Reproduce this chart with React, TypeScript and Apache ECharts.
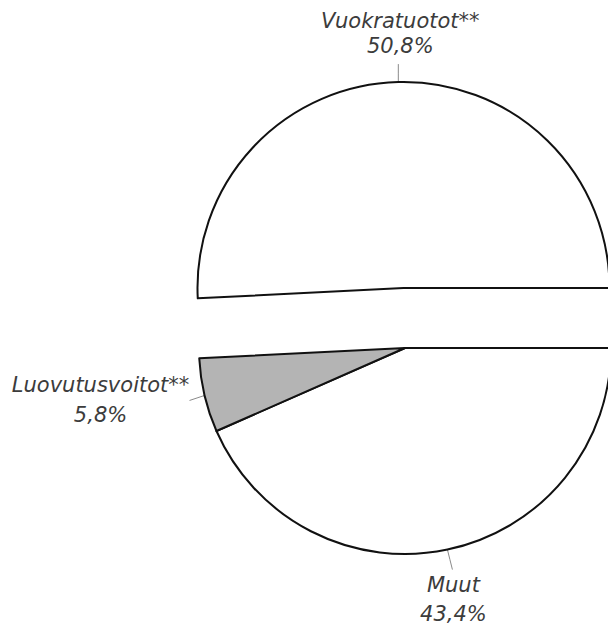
import React, { useEffect, useRef } from "react";
import * as echarts from "echarts";

// Data
const categories = ["Muut", "Luovutusvoitot**", "Vuokratuotot**"];
const shares = [43.4, 5.8, 50.8];
const fills = ["#ffffff", "#b4b4b4", "#ffffff"];
const exploded = [false, false, true];

// Layout
const CX = 405;
const CY = 348;
const R = 206;
const OFFSET = 60;

// Label placement relative to the slice's mid-angle point on the rim
const textOffsets = [
  [6, 50],
  [-104, 5],
  [2, -49],
];
const leaderEnds = [
  [5, 20],
  [-15, 5],
  [0, -18],
];
const lineHeights = [29, 30, 25];

function midAngles() {
  const total = shares.reduce((a, b) => a + b, 0);
  let acc = 0;
  return shares.map((v) => {
    const a0 = (acc / total) * 2 * Math.PI;
    acc += v;
    const a1 = (acc / total) * 2 * Math.PI;
    return (a0 + a1) / 2; // clockwise from 3 o'clock (screen coords)
  });
}

export default function App() {
  const ref = useRef<HTMLDivElement>(null);
  useEffect(() => {
    if (!ref.current) return;
    const chart = echarts.init(ref.current, null, { renderer: "svg" });
    const mids = midAngles();
    // exploded piece: shift its pie centre along its mid angle
    const expIdx = exploded.indexOf(true);
    const ecx = CX + OFFSET * Math.cos(mids[expIdx]);
    const ecy = CY + OFFSET * Math.sin(mids[expIdx]);
    const anc = mids.map((m, i) => {
      const cx = exploded[i] ? ecx : CX;
      const cy = exploded[i] ? ecy : CY;
      return [cx + R * Math.cos(m), cy + R * Math.sin(m)];
    });

    const makeSeries = (isExploded: boolean, cx: number, cy: number) => ({
      type: "pie",
      center: [cx, cy],
      radius: R,
      startAngle: 0,
      clockwise: true,
      avoidLabelOverlap: false,
      silent: true,
      emphasis: { disabled: true },
      itemStyle: { borderColor: "#111111", borderWidth: 2 },
      label: {
        show: true,
        position: "outside",
        fontFamily: "DejaVu Sans",
        fontStyle: "italic",
        fontSize: 21,
        color: "#3c3c3c",
        align: "center",
        formatter: (p: any) =>
          p.name + "\n" + Number(p.value).toFixed(1).replace(".", ",") + "%",
      },
      labelLine: {
        show: true,
        length: 10,
        length2: 0,
        lineStyle: { color: "#8a8a8a", width: 1 },
      },
      labelLayout: (params: any) => {
        const i = params.dataIndex;
        const [ax, ay] = anc[i];
        const ex = ax + leaderEnds[i][0];
        const ey = ay + leaderEnds[i][1];
        return {
          x: ax + textOffsets[i][0],
          y: ay + textOffsets[i][1],
          align: "center",
          verticalAlign: "middle",
          labelLinePoints: [
            [ax, ay],
            [(ax + ex) / 2, (ay + ey) / 2],
            [ex, ey],
          ],
        };
      },
      data: categories.map((name, i) => {
        const visible = exploded[i] === isExploded;
        return {
          name,
          value: shares[i],
          itemStyle: visible
            ? { color: fills[i] }
            : { color: "transparent", borderWidth: 0 },
          label: visible
            ? { show: true, lineHeight: lineHeights[i] }
            : { show: false },
          labelLine: { show: visible },
        };
      }),
    });

    chart.setOption({
      animation: false,
      backgroundColor: "#ffffff",
      series: [makeSeries(false, CX, CY), makeSeries(true, ecx, ecy)],
    });
    return () => chart.dispose();
  }, []);
  return (
    <div
      ref={ref}
      style={{ position: "fixed", left: 0, top: 0, width: 608, height: 625 }}
    />
  );
}
